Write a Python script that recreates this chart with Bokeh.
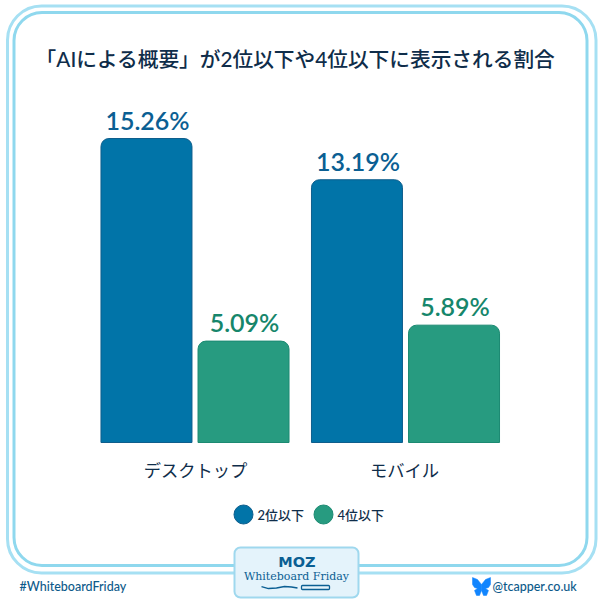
from bokeh.plotting import figure
from bokeh.embed import file_html
from bokeh.resources import INLINE
from bokeh.core.properties import value

title_text = "「AIによる概要」が2位以下や4位以下に表示される割合"
categories = ["デスクトップ", "モバイル"]
series_names = ["2位以下", "4位以下"]
top2_values = [15.26, 13.19]
top4_values = [5.09, 5.89]

BLUE, BLUE_EDGE, BLUE_TEXT = "#0174a8", "#0f5e8c", "#0b5f93"
GREEN, GREEN_EDGE, GREEN_TEXT = "#279b80", "#1c8a72", "#16866b"
NAVY = "#0f2d4a"
CJK = "'Lato Medium', Lato, 'Noto Sans CJK JP Medium', 'Noto Sans CJK JP', sans-serif"
CJK_REGULAR = "Lato, 'Noto Sans CJK JP', sans-serif"

# scale: value 0 sits at page row 442, 15.26 at row 138; group 0 centred at column 194.5
PX_PER_VAL = 304 / 15.26
PX_PER_GROUP = 210.5
def X(px): return (px - 194.5) / PX_PER_GROUP
def Y(py): return (442 - py) / PX_PER_VAL

p = figure(width=600, height=600, output_backend="svg", toolbar_location=None,
           x_range=(X(0), X(600)), y_range=(Y(600), Y(0)), min_border=0,
           outline_line_color=None, background_fill_color="white", border_fill_color="white")
p.axis.visible = False
p.grid.visible = False

# decorative frame
p.quad(left=[X(7)], right=[X(595.5)], top=[Y(5.5)], bottom=[Y(572.5)], fill_color=None,
       line_color="#a6e0f3", line_width=3, border_radius=34)
p.quad(left=[X(13.5)], right=[X(586.5)], top=[Y(12)], bottom=[Y(565)], fill_color=None,
       line_color="#8fd8ee", line_width=3, border_radius=28)

# bars
g = [0, 1]
off = 0.2305
w = 91 / PX_PER_GROUP
p.vbar(x=[i - off for i in g], top=top2_values, bottom=0, width=w, fill_color=BLUE,
       line_color=BLUE_EDGE, line_width=1, border_radius=(8, 8, 0, 0))
p.vbar(x=[i + off for i in g], top=top4_values, bottom=0, width=w, fill_color=GREEN,
       line_color=GREEN_EDGE, line_width=1, border_radius=(8, 8, 0, 0))

lab = dict(text_font=value("'Lato Semibold', 'Lato Medium', Lato"), text_align="center", text_baseline="bottom",
           text_font_size="25px", y_offset=-4, x_offset=1)
p.text(x=[i - off for i in g], y=top2_values, text=[f"{v:.2f}%" for v in top2_values], text_color=BLUE_TEXT, **lab)
p.text(x=[i + off for i in g], y=top4_values, text=[f"{v:.2f}%" for v in top4_values], text_color=GREEN_TEXT, **lab)

# category labels, title
p.text(x=[X(195), X(404)], y=[Y(470)] * 2, text=categories, text_font=value(CJK_REGULAR), text_font_size="17.3px",
       text_color=NAVY, text_align="center", text_baseline="middle")
p.text(x=[X(295)], y=[Y(58)], text=[title_text], text_font=value(CJK), text_font_size="20.7px",
       text_color=NAVY, text_align="center", text_baseline="middle")

# legend
p.scatter(x=[X(243), X(323)], y=[Y(514)] * 2, size=19, marker="circle",
          fill_color=[BLUE, GREEN], line_color=[BLUE_EDGE, GREEN_EDGE], line_width=1)
p.text(x=[X(257), X(337)], y=[Y(514)] * 2, text=series_names, text_font=value(CJK), text_font_size="13px",
       text_color=NAVY, text_align="left", text_baseline="middle")

# badge
p.quad(left=[X(234)], right=[X(358)], top=[Y(547)], bottom=[Y(597)], fill_color="#e4f3fb",
       line_color="#9fd8ee", line_width=2, border_radius=6)
p.text(x=[X(296.5)], y=[Y(561)], text=["MOZ"], text_font=value("DejaVu Sans"), text_font_style="bold",
       text_font_size="14.5px", text_color="#0b5f93", text_align="center", text_baseline="middle")
p.text(x=[X(296)], y=[Y(576)], text=["Whiteboard Friday"], text_font=value("DejaVu Serif"),
       text_font_size="11px", text_color="#0b5f93", text_align="center", text_baseline="middle")
p.line(x=[X(v) for v in (261, 268, 276, 284, 291, 297)], y=[Y(v) for v in (586, 588, 587.5, 586, 586.5, 587.5)],
       line_color="#0b5f93", line_width=1.3)
p.quad(left=[X(301)], right=[X(329)], top=[Y(585)], bottom=[Y(589)], fill_color="#e4f3fb",
       line_color="#0b5f93", line_width=1.3, border_radius=1)

# footer
foot = dict(text_font=value("'Lato Medium', Lato"), text_font_size="12.5px", text_color="#0d5a8a", text_baseline="middle")
p.text(x=[X(19)], y=[Y(586)], text=["#WhiteboardFriday"], text_align="left", **foot)
p.text(x=[X(492)], y=[Y(586)], text=["@tcapper.co.uk"], text_align="left", **foot)
wing_x = [[481, 477, 472, 472, 474, 477, 474, 476, 479, 481],
          [481, 485, 490, 490, 488, 485, 488, 486, 483, 481]]
wing_y = [[584, 579, 577, 584, 587, 588, 590, 595, 595, 590],
          [584, 579, 577, 584, 587, 588, 590, 595, 595, 590]]
p.patches(xs=[[X(v) for v in a] for a in wing_x], ys=[[Y(v) for v in a] for a in wing_y],
          fill_color="#1185fe", line_color="#1185fe", line_width=0.5)

open("out.html", "w").write(file_html(p, INLINE))
